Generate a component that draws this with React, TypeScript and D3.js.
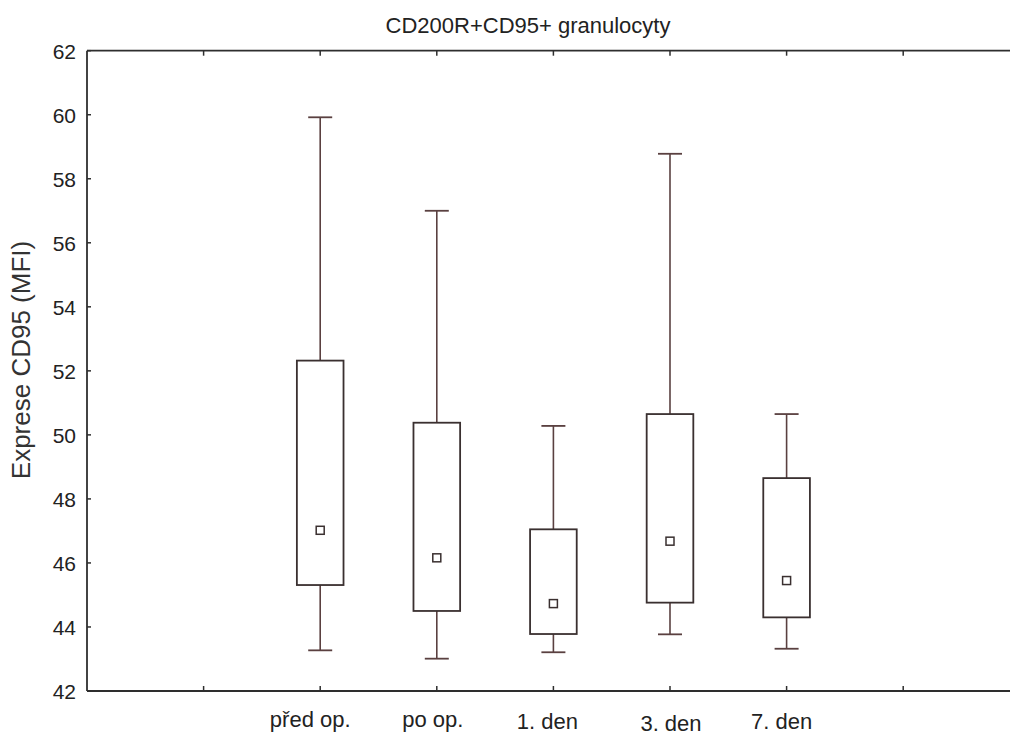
import React from "react";
import * as d3 from "d3";

// Time points and their box-plot statistics (CD95 expression, MFI)
const categories = ["před op.", "po op.", "1. den", "3. den", "7. den"];
const whiskerHigh = [59.92, 57.0, 50.28, 58.78, 50.65];
const boxHigh = [52.32, 50.38, 47.05, 50.65, 48.65];
const centerValue = [47.02, 46.16, 44.73, 46.68, 45.45];
const boxLow = [45.31, 44.5, 43.78, 44.76, 44.3];
const whiskerLow = [43.27, 43.01, 43.21, 43.77, 43.32];

const yTicks = [42, 44, 46, 48, 50, 52, 54, 56, 58, 60, 62];
// category slots on the x axis (0 = left axis); tick marks at every slot
const categorySlot = [2, 3, 4, 5, 6];
const xTickSlots = [1, 2, 3, 4, 5, 6, 7];

// small typographic nudges for the category labels
const labelDx = [-10, -4, -6, 1, -5];
const labelBaseline = [727, 727, 729, 731, 729];

const W = 1010;
const H = 736;
const left = 87;
const top = 50.7;
const bottom = 691;
const slot = 116.6;

export default function App() {
  const x = d3.scaleLinear().domain([0, 8]).range([left, left + 8 * slot]);
  const y = d3.scaleLinear().domain([42, 62]).range([bottom, top]);
  const boxW = slot * 0.4;
  const capW = 24;
  const sq = 8;
  const axisColor = "#2e2e2e";
  const whiskerColor = "#5a4040";
  const boxColor = "#3a3030";
  const font = "Arial, 'Liberation Sans', sans-serif";
  const right = x(8);

  return (
    <svg
      width={W}
      height={H}
      style={{ position: "absolute", left: 0, top: 0, background: "#fff" }}
      fontFamily={font}
    >
      <rect x={0} y={0} width={W} height={H} fill="#fff" />
      {/* title */}
      <text x={528} y={33} textAnchor="middle" fontSize={22} fill="#222">
        CD200R+CD95+ granulocyty
      </text>

      {/* y axis label */}
      <text
        transform={`translate(${30},${360}) rotate(-90)`}
        textAnchor="middle"
        fontSize={26}
        fill="#333"
      >
        Exprese CD95 (MFI)
      </text>

      {/* frame */}
      <line x1={left} x2={right} y1={y(62)} y2={y(62)} stroke={axisColor} strokeWidth={1.8} />
      <line x1={left} x2={right} y1={y(42)} y2={y(42)} stroke={axisColor} strokeWidth={1.8} />
      <line x1={left} x2={left} y1={y(62)} y2={y(42)} stroke={axisColor} strokeWidth={1.8} />

      {/* y ticks */}
      {yTicks.map((t) => (
        <g key={t}>
          <line x1={left} x2={left + 4} y1={y(t)} y2={y(t)} stroke={axisColor} strokeWidth={1.5} />
          <text
            x={76}
            y={y(t) + 8}
            textAnchor="end"
            fontSize={21}
            fill="#222"
          >
            {t}
          </text>
        </g>
      ))}

      {/* x ticks, top and bottom */}
      {xTickSlots.map((s) => (
        <g key={s}>
          <line x1={x(s)} x2={x(s)} y1={y(62)} y2={y(62) + 5} stroke={axisColor} strokeWidth={1.5} />
          <line x1={x(s)} x2={x(s)} y1={y(42)} y2={y(42) - 5} stroke={axisColor} strokeWidth={1.5} />
        </g>
      ))}

      {/* category labels */}
      {categories.map((c, i) => (
        <text
          key={c}
          x={x(categorySlot[i]) + labelDx[i]}
          y={labelBaseline[i]}
          textAnchor="middle"
          fontSize={22}
          fill="#222"
        >
          {c}
        </text>
      ))}

      {/* boxes */}
      {categories.map((c, i) => {
        const cx = x(categorySlot[i]);
        return (
          <g key={c}>
            <line x1={cx} x2={cx} y1={y(whiskerHigh[i])} y2={y(boxHigh[i])} stroke={whiskerColor} strokeWidth={1.6} />
            <line x1={cx} x2={cx} y1={y(boxLow[i])} y2={y(whiskerLow[i])} stroke={whiskerColor} strokeWidth={1.6} />
            <line x1={cx - capW / 2} x2={cx + capW / 2} y1={y(whiskerHigh[i])} y2={y(whiskerHigh[i])} stroke={whiskerColor} strokeWidth={1.8} />
            <line x1={cx - capW / 2} x2={cx + capW / 2} y1={y(whiskerLow[i])} y2={y(whiskerLow[i])} stroke={whiskerColor} strokeWidth={1.8} />
            <rect
              x={cx - boxW / 2}
              y={y(boxHigh[i])}
              width={boxW}
              height={y(boxLow[i]) - y(boxHigh[i])}
              fill="none"
              stroke={boxColor}
              strokeWidth={1.8}
            />
            <rect
              x={cx - sq / 2}
              y={y(centerValue[i]) - sq / 2}
              width={sq}
              height={sq}
              fill="#fff"
              stroke={boxColor}
              strokeWidth={1.5}
            />
          </g>
        );
      })}
    </svg>
  );
}
